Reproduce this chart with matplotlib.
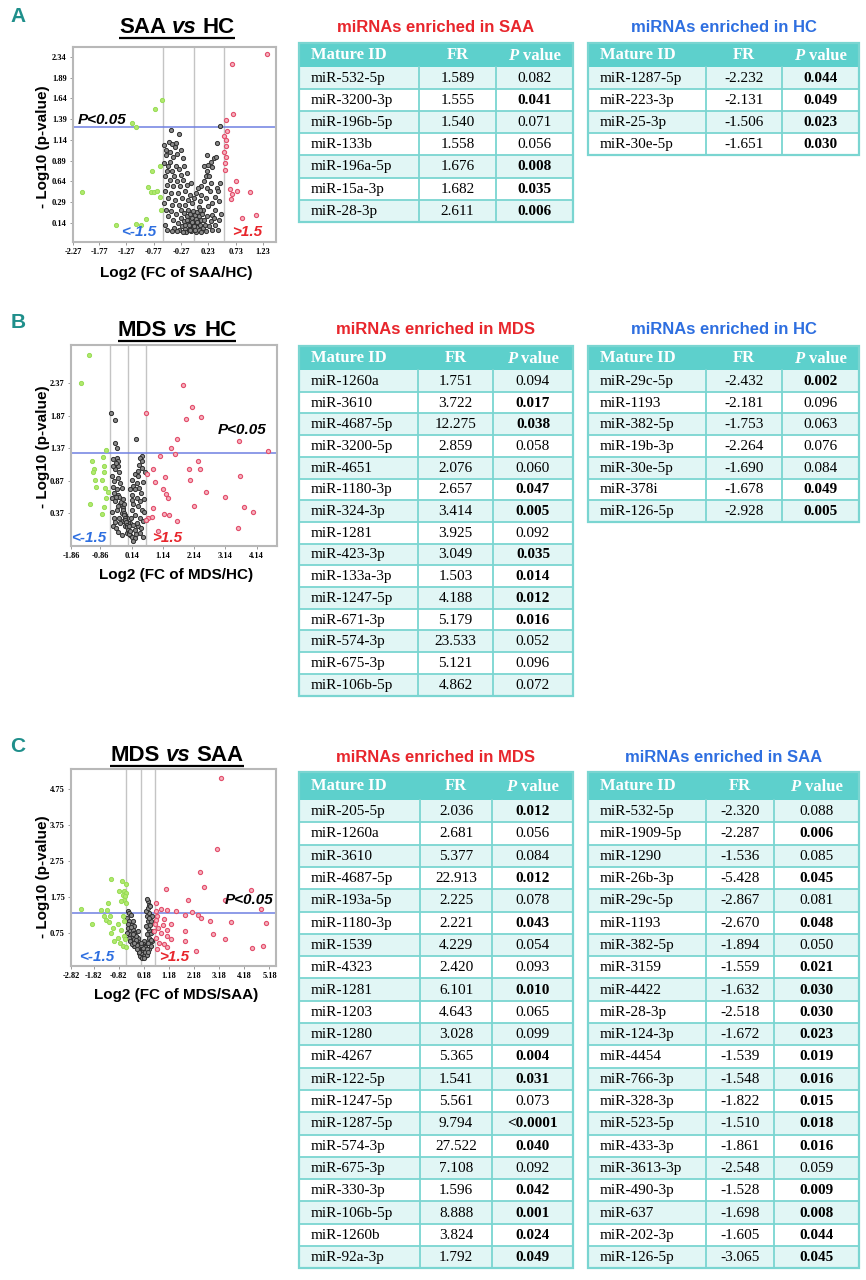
import matplotlib
matplotlib.use('Agg')
import matplotlib.pyplot as plt
import numpy as np
from matplotlib.patches import Rectangle

# ---------------- table data ----------------
a_saa_ids = ['miR-532-5p', 'miR-3200-3p', 'miR-196b-5p', 'miR-133b', 'miR-196a-5p', 'miR-15a-3p', 'miR-28-3p']
a_saa_fr = [1.589, 1.555, 1.540, 1.558, 1.676, 1.682, 2.611]
a_saa_p = ['0.082', '0.041', '0.071', '0.056', '0.008', '0.035', '0.006']

a_hc_ids = ['miR-1287-5p', 'miR-223-3p', 'miR-25-3p', 'miR-30e-5p']
a_hc_fr = [-2.232, -2.131, -1.506, -1.651]
a_hc_p = ['0.044', '0.049', '0.023', '0.030']

b_mds_ids = ['miR-1260a', 'miR-3610', 'miR-4687-5p', 'miR-3200-5p', 'miR-4651', 'miR-1180-3p', 'miR-324-3p',
             'miR-1281', 'miR-423-3p', 'miR-133a-3p', 'miR-1247-5p', 'miR-671-3p', 'miR-574-3p', 'miR-675-3p',
             'miR-106b-5p']
b_mds_fr = [1.751, 3.722, 12.275, 2.859, 2.076, 2.657, 3.414, 3.925, 3.049, 1.503, 4.188, 5.179, 23.533, 5.121, 4.862]
b_mds_p = ['0.094', '0.017', '0.038', '0.058', '0.060', '0.047', '0.005', '0.092', '0.035', '0.014', '0.012',
           '0.016', '0.052', '0.096', '0.072']

b_hc_ids = ['miR-29c-5p', 'miR-1193', 'miR-382-5p', 'miR-19b-3p', 'miR-30e-5p', 'miR-378i', 'miR-126-5p']
b_hc_fr = [-2.432, -2.181, -1.753, -2.264, -1.690, -1.678, -2.928]
b_hc_p = ['0.002', '0.096', '0.063', '0.076', '0.084', '0.049', '0.005']

c_mds_ids = ['miR-205-5p', 'miR-1260a', 'miR-3610', 'miR-4687-5p', 'miR-193a-5p', 'miR-1180-3p', 'miR-1539',
             'miR-4323', 'miR-1281', 'miR-1203', 'miR-1280', 'miR-4267', 'miR-122-5p', 'miR-1247-5p',
             'miR-1287-5p', 'miR-574-3p', 'miR-675-3p', 'miR-330-3p', 'miR-106b-5p', 'miR-1260b', 'miR-92a-3p']
c_mds_fr = [2.036, 2.681, 5.377, 22.913, 2.225, 2.221, 4.229, 2.420, 6.101, 4.643, 3.028, 5.365, 1.541, 5.561,
            9.794, 27.522, 7.108, 1.596, 8.888, 3.824, 1.792]
c_mds_p = ['0.012', '0.056', '0.084', '0.012', '0.078', '0.043', '0.054', '0.093', '0.010', '0.065', '0.099',
           '0.004', '0.031', '0.073', '<0.0001', '0.040', '0.092', '0.042', '0.001', '0.024', '0.049']

c_saa_ids = ['miR-532-5p', 'miR-1909-5p', 'miR-1290', 'miR-26b-3p', 'miR-29c-5p', 'miR-1193', 'miR-382-5p',
             'miR-3159', 'miR-4422', 'miR-28-3p', 'miR-124-3p', 'miR-4454', 'miR-766-3p', 'miR-328-3p',
             'miR-523-5p', 'miR-433-3p', 'miR-3613-3p', 'miR-490-3p', 'miR-637', 'miR-202-3p', 'miR-126-5p']
c_saa_fr = [-2.320, -2.287, -1.536, -5.428, -2.867, -2.670, -1.894, -1.559, -1.632, -2.518, -1.672, -1.539,
            -1.548, -1.822, -1.510, -1.861, -2.548, -1.528, -1.698, -1.605, -3.065]
c_saa_p = ['0.088', '0.006', '0.085', '0.045', '0.081', '0.048', '0.050', '0.021', '0.030', '0.030', '0.023',
           '0.019', '0.016', '0.015', '0.018', '0.016', '0.059', '0.009', '0.008', '0.044', '0.045']

# ---------------- volcano data (log2 FC, -log10 p) ----------------
a_red = [(1.30, 2.18), (0.67, 2.05), (0.68, 1.45), (0.56, 1.38), (0.58, 1.25), (0.51, 1.19), (0.56, 1.14),
         (0.55, 1.07), (0.52, 1.00), (0.56, 0.93), (0.54, 0.86), (0.54, 0.78), (0.73, 0.64), (0.62, 0.55),
         (0.76, 0.53), (0.67, 0.49), (0.65, 0.43), (1.00, 0.51), (0.84, 0.20), (1.10, 0.23)]
a_green = [(-0.62, 1.62), (-0.75, 1.51), (-1.17, 1.35), (-1.10, 1.29), (-2.08, 0.51), (-0.81, 0.76),
           (-0.65, 0.82), (-0.88, 0.57), (-0.82, 0.51), (-0.77, 0.51), (-0.71, 0.53), (-0.66, 0.45),
           (-0.64, 0.29), (-0.91, 0.19), (-1.00, 0.12), (-1.09, 0.13), (-1.47, 0.12)]
a_gray = [(-0.46, 1.26), (-0.30, 1.21), (-0.49, 1.12), (-0.43, 1.09), (-0.37, 1.10), (-0.58, 1.08), (-0.55, 1.02),
          (-0.47, 1.00), (-0.38, 1.06), (-0.27, 1.02), (-0.34, 0.97), (-0.54, 0.96), (-0.41, 0.93), (-0.48, 0.88),
          (-0.23, 0.92), (-0.59, 0.86), (-0.50, 0.83), (-0.36, 0.83), (-0.21, 0.83), (-0.30, 0.79), (-0.44, 0.77),
          (-0.52, 0.76), (-0.56, 0.70), (-0.40, 0.71), (-0.28, 0.72), (-0.17, 0.74), (-0.47, 0.66), (-0.35, 0.64),
          (-0.23, 0.66), (-0.53, 0.60), (-0.41, 0.58), (-0.29, 0.58), (-0.17, 0.60), (-0.08, 0.62), (-0.57, 0.52),
          (-0.45, 0.50), (-0.33, 0.50), (-0.20, 0.52), (-0.10, 0.48), (-0.50, 0.44), (-0.38, 0.42), (-0.26, 0.44),
          (-0.14, 0.42), (-0.58, 0.38), (-0.43, 0.36), (-0.31, 0.35), (-0.20, 0.36), (-0.07, 0.38),
          (0.44, 1.31), (0.38, 1.10), (0.21, 0.96), (0.33, 0.92), (0.37, 0.93), (0.27, 0.88), (0.23, 0.84),
          (0.30, 0.81), (0.15, 0.82), (0.21, 0.76), (0.18, 0.70), (0.25, 0.71), (0.15, 0.64), (0.27, 0.62),
          (0.10, 0.58), (0.04, 0.56), (0.20, 0.56), (0.00, 0.50), (0.10, 0.48), (-0.03, 0.44), (0.26, 0.52),
          (0.38, 0.56), (0.41, 0.52), (0.45, 0.62), (0.35, 0.45), (0.18, 0.44), (0.30, 0.38), (0.42, 0.40),
          (0.08, 0.40), (0.22, 0.34), (0.13, 0.30), (0.36, 0.30), (0.46, 0.25), (0.29, 0.24), (0.05, 0.33),
          (-0.55, 0.30), (-0.50, 0.22), (-0.56, 0.12), (-0.52, 0.06), (-0.45, 0.28), (-0.42, 0.18), (-0.40, 0.08),
          (-0.36, 0.25), (-0.33, 0.14), (-0.30, 0.05), (-0.28, 0.30), (-0.27, 0.20), (-0.25, 0.10), (-0.22, 0.26),
          (-0.21, 0.16), (-0.19, 0.07), (-0.18, 0.03), (-0.16, 0.22), (-0.15, 0.13), (-0.14, 0.30), (-0.13, 0.05),
          (-0.12, 0.18), (-0.11, 0.10), (-0.10, 0.25), (-0.09, 0.14), (-0.08, 0.04), (-0.07, 0.20), (-0.06, 0.09),
          (-0.05, 0.28), (-0.04, 0.16), (-0.03, 0.06), (-0.02, 0.23), (-0.01, 0.12), (0.00, 0.03), (0.01, 0.19),
          (0.02, 0.09), (0.03, 0.27), (0.04, 0.14), (0.05, 0.05), (0.06, 0.22), (0.08, 0.11), (0.09, 0.17),
          (0.10, 0.03), (0.12, 0.25), (0.13, 0.08), (0.15, 0.18), (0.17, 0.12), (0.19, 0.04), (0.21, 0.22),
          (0.24, 0.10), (0.27, 0.16), (0.30, 0.06), (0.33, 0.20), (0.36, 0.12), (0.40, 0.05), (0.43, 0.17),
          (-0.20, 0.11), (-0.17, 0.17), (-0.13, 0.12), (-0.10, 0.06), (-0.07, 0.15), (-0.04, 0.10), (-0.01, 0.05),
          (0.02, 0.15), (-0.24, 0.03), (-0.35, 0.04), (0.07, 0.30), (-0.44, 0.04)]

b_red = [(1.77, 2.34), (2.06, 2.01), (2.37, 1.85), (1.89, 1.82), (0.61, 1.91), (1.60, 1.51), (3.58, 1.48),
         (1.41, 1.37), (1.52, 1.28), (4.49, 1.33), (2.26, 1.18), (1.96, 1.06), (2.34, 1.05), (1.06, 1.25),
         (0.83, 1.06), (0.64, 0.97), (1.20, 0.93), (2.02, 0.89), (3.60, 0.94), (0.88, 0.86), (1.14, 0.75),
         (1.23, 0.67), (1.30, 0.61), (2.51, 0.70), (3.13, 0.63), (2.12, 0.48), (0.83, 0.45), (3.75, 0.47),
         (1.17, 0.36), (1.33, 0.35), (1.59, 0.26), (4.01, 0.40), (3.54, 0.15), (0.97, 0.10), (0.78, 0.32),
         (0.67, 0.30), (0.61, 0.27)]
b_green = [(-1.22, 2.81), (-1.49, 2.38), (-0.69, 1.35), (-0.78, 1.24), (-1.12, 1.17), (-1.06, 1.05),
           (-0.73, 1.10), (-1.10, 1.00), (-0.73, 1.00), (-1.03, 0.88), (-0.80, 0.88), (-1.00, 0.77),
           (-0.71, 0.76), (-0.63, 0.70), (-0.69, 0.61), (-1.19, 0.51), (-0.73, 0.47), (-0.82, 0.36)]
b_gray = [(-0.51, 1.92), (-0.39, 1.81), (-0.39, 1.45), (-0.33, 1.37), (0.27, 1.51),
          (-0.45, 1.20), (-0.34, 1.22), (-0.31, 1.17), (-0.29, 1.10), (-0.39, 1.05), (-0.27, 1.00), (-0.31, 0.92),
          (-0.41, 0.87), (-0.23, 0.84), (-0.34, 0.74), (-0.18, 0.76), (-0.29, 0.66), (-0.50, 0.61), (-0.39, 0.56),
          (-0.23, 0.51), (-0.13, 0.45), (-0.34, 0.43), (-0.18, 0.38), (-0.07, 0.35), (-0.02, 0.30), (-0.13, 0.25),
          (-0.23, 0.22), (-0.07, 0.17), (0.03, 0.14), (-0.29, 0.09), (-0.02, 0.07), (0.09, 0.04), (-0.18, 0.04),
          (0.14, 0.01), (0.24, -0.01), (0.09, 0.22), (0.19, 0.19), (0.01, 0.22),
          (-0.50, 0.95), (-0.45, 0.78), (-0.48, 0.40), (-0.44, 0.30), (-0.47, 0.18), (-0.40, 0.24), (-0.35, 0.15),
          (-0.28, 0.30), (-0.25, 0.62), (-0.20, 0.55), (-0.15, 0.60), (-0.10, 0.52), (-0.30, 0.48), (-0.36, 0.62),
          (-0.42, 0.68), (-0.45, 1.10), (-0.37, 1.15),
          (-0.15, 0.42), (-0.12, 0.38), (-0.10, 0.34), (-0.08, 0.30), (-0.06, 0.27), (-0.04, 0.24), (-0.02, 0.20),
          (0.00, 0.16), (0.02, 0.12), (0.04, 0.09), (0.06, 0.06), (0.08, 0.10), (0.05, 0.18),
          (0.48, 1.25), (0.40, 1.22), (0.46, 1.17), (0.37, 1.12), (0.48, 1.07), (0.24, 0.97), (0.35, 0.94),
          (0.14, 0.89), (0.30, 0.84), (0.19, 0.79), (0.37, 0.76), (0.24, 0.74), (0.44, 0.69), (0.14, 0.66),
          (0.30, 0.61), (0.40, 0.56), (0.19, 0.52), (0.35, 0.48), (0.14, 0.43), (0.46, 0.43), (0.24, 0.35),
          (0.40, 0.30), (0.51, 0.25), (0.35, 0.17), (0.24, 0.12), (0.40, 0.07), (0.51, 0.01), (0.19, -0.06),
          (0.59, 0.27), (0.55, 0.60), (0.50, 0.85), (0.56, 1.00), (0.30, 0.22), (0.45, 0.15), (0.28, 0.05),
          (0.12, 0.30), (0.16, 0.58), (0.10, 0.75), (0.55, 0.40), (0.33, 1.03)]

c_red = [(3.25, 5.05), (3.11, 3.08), (2.42, 2.43), (2.59, 2.02), (1.06, 1.97), (4.44, 1.95), (1.93, 1.67),
         (3.40, 1.67), (4.83, 1.42), (0.67, 1.57), (0.86, 1.42), (1.12, 1.39), (1.46, 1.34), (2.09, 1.32),
         (1.81, 1.25), (2.32, 1.23), (2.45, 1.16), (2.82, 1.08), (3.66, 1.05), (5.04, 1.02), (0.66, 1.34),
         (0.70, 1.20), (0.99, 1.14), (1.26, 0.99), (0.62, 0.99), (0.73, 0.88), (1.12, 0.83), (1.81, 0.79),
         (2.94, 0.71), (0.86, 0.74), (1.10, 0.65), (0.66, 0.60), (1.26, 0.56), (3.41, 0.58), (1.81, 0.51),
         (0.79, 0.46), (0.99, 0.42), (0.70, 0.30), (1.12, 0.34), (2.25, 0.25), (4.48, 0.32), (4.91, 0.37),
         (0.60, 0.79), (0.93, 0.97), (0.66, 1.11)]
c_green = [(-1.12, 2.24), (-0.70, 2.18), (-0.53, 2.11), (-0.79, 1.90), (-0.60, 1.92), (-0.53, 1.85),
           (-0.66, 1.81), (-0.57, 1.76), (-0.62, 1.67), (-0.73, 1.62), (-0.53, 1.57), (-1.26, 1.57),
           (-2.34, 1.41), (-1.52, 1.39), (-1.28, 1.37), (-1.42, 1.20), (-1.15, 1.20), (-0.66, 1.20),
           (-1.32, 1.11), (-1.19, 1.05), (-1.89, 1.00), (-1.06, 0.88), (-0.86, 0.99), (-0.60, 1.07),
           (-1.12, 0.74), (-0.73, 0.83), (-0.62, 0.65), (-0.86, 0.60), (-0.99, 0.51), (-0.75, 0.46),
           (-0.56, 0.56), (-0.66, 0.37), (-0.53, 0.34)]
c_gray = [(-0.46, 1.34), (-0.40, 1.30), (-0.33, 1.25), (-0.49, 1.16), (-0.40, 1.07), (-0.33, 0.97), (-0.46, 0.88),
          (-0.36, 0.79), (-0.27, 0.83), (-0.20, 0.74), (-0.40, 0.70), (-0.30, 0.60), (-0.20, 0.56), (-0.07, 0.51),
          (-0.13, 0.46), (0.00, 0.42), (0.07, 0.37), (0.13, 0.28), (0.17, 0.14), (0.09, 0.19), (0.04, 0.32),
          (0.20, 0.32), (0.27, 0.42), (0.33, 0.51), (0.40, 0.60), (0.30, 0.70), (0.46, 0.74), (0.40, 0.83),
          (0.33, 0.88), (0.27, 0.93), (0.33, 1.07), (0.30, 1.20), (0.40, 1.30), (0.27, 1.34), (0.33, 1.44),
          (0.37, 1.53), (0.36, 1.62), (0.30, 1.69), (0.44, 1.48), (0.46, 1.07), (0.53, 0.79), (0.49, 0.51),
          (0.20, 0.51), (0.13, 0.42), (-0.07, 0.60), (-0.13, 0.65), (-0.27, 0.46), (-0.20, 0.37), (-0.07, 0.28),
          (0.00, 0.19), (0.23, 0.09), (0.13, 0.09), (0.07, 0.07), (0.17, 0.37), (0.27, 0.19), (0.40, 0.28),
          (0.46, 0.37), (-0.26, 1.07), (-0.20, 0.93), (-0.07, 0.79), (-0.40, 0.60), (-0.36, 0.51), (-0.30, 0.42),
          (0.00, 0.30), (0.05, 0.25), (0.10, 0.22), (0.15, 0.20), (0.20, 0.24), (0.08, 0.13), (0.12, 0.16),
          (0.18, 0.10), (0.14, 0.06), (0.20, 0.15), (0.25, 0.28), (-0.05, 0.35), (-0.10, 0.40), (0.02, 0.10),
          (0.06, 0.18), (0.11, 0.30), (0.16, 0.26), (0.22, 0.36), (0.10, 0.05), (0.24, 0.20), (-0.15, 0.55),
          (0.35, 0.45), (0.30, 0.30), (-0.02, 0.22), (0.30, 0.12), (0.19, 0.04), (0.15, 0.33), (0.08, 0.40),
          (-0.10, 0.30), (-0.20, 0.45), (0.36, 0.20), (0.05, 0.45), (0.45, 0.55), (0.50, 1.20), (0.42, 0.95),
          (0.38, 1.15), (-0.45, 1.00), (-0.35, 0.90), (-0.25, 0.70), (-0.50, 0.75)]

a_yticklabels = ['0.14', '0.29', '0.64', '0.89', '1.14', '1.39', '1.64', '1.89', '2.34']
a_xticklabels = ['-2.27', '-1.77', '-1.27', '-0.77', '-0.27', '0.23', '0.73', '1.23']
b_yticklabels = ['0.37', '0.87', '1.37', '1.87', '2.37']
b_xticklabels = ['-1.86', '-0.86', '0.14', '1.14', '2.14', '3.14', '4.14']
c_yticklabels = ['0.75', '1.75', '2.75', '3.75', '4.75']
c_xticklabels = ['-2.82', '-1.82', '-0.82', '0.18', '1.18', '2.18', '3.18', '4.18', '5.18']

# ---------------- style ----------------
W, H = 866, 1280
SANS = 'Liberation Sans'
SERIF = 'Liberation Serif'
TEAL = '#5dd0cc'
GRIDC = '#7ad5d1'
LIGHT = '#e1f6f5'
RED = '#e8262c'
BLUE = '#2e6fe0'
LETTER = '#1f8f8b'
PX = 100 / 72.0

fig = plt.figure(figsize=(W / 100, H / 100), dpi=100)
ax0 = fig.add_axes([0, 0, 1, 1])
ax0.set_xlim(0, W)
ax0.set_ylim(H, 0)
ax0.axis('off')
ax0.patch.set_visible(False)
ax0.set_zorder(10)   # page-level texts and tables above the volcano axes
renderer = fig.canvas.get_renderer()


def rich(x, y, parts, size, color='black', ha='center', family=SANS, underline=False):
    # parts: (text, style, weight); drawn on one baseline with a space between
    gap = size * PX * 0.27
    objs = [ax0.text(0, y, s, fontsize=size, fontstyle=st, fontweight=wt, family=family,
                     color=color, va='baseline', ha='left') for s, st, wt in parts]
    widths = [t.get_window_extent(renderer).width for t in objs]
    total = sum(widths) + gap * (len(objs) - 1)
    x0 = x - total / 2 if ha == 'center' else x
    cur = x0
    for t, w in zip(objs, widths):
        t.set_x(cur)
        cur += w + gap
    if underline:
        ax0.plot([x0, x0 + total], [y + 5, y + 5], color='black', lw=1.6, solid_capstyle='butt')


def table(edges, top, head_h, row_h, ids, fr, pv, title, tcolor, title_y):
    x0, x1, x2, x3 = edges
    n = len(ids)
    ax0.text((x0 + x3) / 2, title_y, title, fontsize=12, fontweight='bold', family=SANS,
             color=tcolor, ha='center', va='center')
    ax0.add_patch(Rectangle((x0, top), x3 - x0, head_h, fc=TEAL, ec='none'))
    body = top + head_h
    for i in range(n):
        fc = LIGHT if i % 2 == 0 else 'white'
        ax0.add_patch(Rectangle((x0, body + i * row_h), x3 - x0, row_h, fc=fc, ec='none'))
    bottom = body + n * row_h
    for i in range(1, n):
        ax0.plot([x0, x3], [body + i * row_h] * 2, color=GRIDC, lw=1.3)
    for xe in (x1, x2):
        ax0.plot([xe, xe], [body, bottom], color=GRIDC, lw=1.3)
    ax0.add_patch(Rectangle((x0, top), x3 - x0, bottom - top, fc='none', ec=GRIDC, lw=1.6))
    hy = top + head_h / 2
    ax0.text(x0 + 12, hy, 'Mature ID', fontsize=12, fontweight='bold', family=SERIF,
             color='white', ha='left', va='center')
    ax0.text((x1 + x2) / 2, hy, 'FR', fontsize=12, fontweight='bold', family=SERIF,
             color='white', ha='center', va='center')
    rich((x2 + x3) / 2, hy + 5.4, [('P', 'italic', 'bold'), ('value', 'normal', 'bold')], 12,
         color='white', family=SERIF)
    for i in range(n):
        cy = body + (i + 0.5) * row_h + 0.5
        ax0.text(x0 + 12, cy, ids[i], fontsize=11, family=SERIF, ha='left', va='center')
        ax0.text((x1 + x2) / 2, cy, '{:.3f}'.format(fr[i]), fontsize=11, family=SERIF,
                 ha='center', va='center')
        bold = float(pv[i].lstrip('<')) < 0.05
        ax0.text((x2 + x3) / 2, cy, pv[i], fontsize=11, family=SERIF, ha='center', va='center',
                 fontweight='bold' if bold else 'normal')


def volcano(box, xlim, ylim, xticks, xlabels, yticks, ylabels, vlines, gray, green, red):
    l, t, r, b = box
    ax = fig.add_axes([l / W, 1 - b / H, (r - l) / W, (b - t) / H])
    ax.set_xlim(*xlim)
    ax.set_ylim(*ylim)
    for v in vlines:
        ax.axvline(v, color='#c4c4c4', lw=1.0, zorder=1)
    ax.axhline(-np.log10(0.05), color='#6f80e2', lw=1.1, zorder=1)
    g = np.array(gray)
    ax.plot(g[:, 0], g[:, 1], 'o', ms=3.0, mfc='#8a8a8a', mec='#2e2e2e', mew=0.7, ls='none', zorder=3)
    gr = np.array(green)
    ax.plot(gr[:, 0], gr[:, 1], 'o', ms=3.0, mfc='#b2e86e', mec='#96dc55', mew=0.7, ls='none', zorder=3)
    rd = np.array(red)
    ax.plot(rd[:, 0], rd[:, 1], 'o', ms=3.0, mfc='#f6b0bd', mec='#e24f6c', mew=0.8, ls='none', zorder=3)
    ax.set_xticks(xticks)
    ax.set_xticklabels(xlabels)
    ax.set_yticks(yticks)
    ax.set_yticklabels(ylabels)
    ax.tick_params(length=2.5, width=0.6, color='#8c8c8c', labelsize=6, pad=2)
    for lab in ax.get_xticklabels() + ax.get_yticklabels():
        lab.set_fontfamily(SERIF)
        lab.set_fontweight('bold')
    for s in ax.spines.values():
        s.set_color('#b8b8b8')
        s.set_linewidth(1.5)
    return ax


def panel_text(letter, ly, title_parts, ty, ylab_y, xlab, xlab_y, p_xy, lo_xy, hi_xy):
    ax0.text(18, ly, letter, fontsize=15, fontweight='bold', family=['Liberation Sans Narrow', SANS],
             color=LETTER, ha='center', va='center')
    rich(177, ty, title_parts, 16, underline=True)
    ax0.text(43, ylab_y, '- Log10 (p-value)', fontsize=11, fontweight='bold', family=SANS,
             rotation=90, ha='center', va='center')
    ax0.text(176, xlab_y, xlab, fontsize=11, fontweight='bold', family=SANS, ha='center', va='center')
    ax0.text(p_xy[0], p_xy[1], 'P<0.05', fontsize=11, fontweight='bold', fontstyle='italic',
             family=SANS, ha='left', va='center')
    ax0.text(lo_xy[0], lo_xy[1], '<-1.5', fontsize=11, fontweight='bold', fontstyle='italic',
             family=SANS, color=BLUE, ha='left', va='center')
    ax0.text(hi_xy[0], hi_xy[1], '>1.5', fontsize=11, fontweight='bold', fontstyle='italic',
             family=SANS, color=RED, ha='left', va='center')


# ---------------- panel A ----------------
volcano((73, 47, 276, 242), (-2.25, 1.47), (-0.09, 2.26),
        [-2.25, -1.77, -1.27, -0.77, -0.27, 0.23, 0.73, 1.23], a_xticklabels,
        [0.14 + 0.25 * k for k in range(9)], a_yticklabels,
        [-0.60, -0.04, 0.52], a_gray, a_green, a_red)
panel_text('A', 17, [('SAA', 'normal', 'bold'), ('vs', 'italic', 'bold'), ('HC', 'normal', 'bold')], 33,
           147, 'Log2 (FC of SAA/HC)', 273, (78, 120), (121, 232), (232, 232))
table((299, 419, 496, 573), 43, 24, 22.1, a_saa_ids, a_saa_fr, a_saa_p,
      'miRNAs enriched in SAA', RED, 27)
table((588, 706, 782, 859), 43, 24, 22.1, a_hc_ids, a_hc_fr, a_hc_p,
      'miRNAs enriched in HC', BLUE, 27)

# ---------------- panel B ----------------
volcano((71, 345, 277, 546), (-1.80, 4.79), (-0.13, 2.96),
        [-1.80, -0.86, 0.14, 1.14, 2.14, 3.14, 4.14], b_xticklabels,
        [0.37, 0.87, 1.37, 1.87, 2.37], b_yticklabels,
        [-0.54, 0.03, 0.60], b_gray, b_green, b_red)
panel_text('B', 322, [('MDS', 'normal', 'bold'), ('vs', 'italic', 'bold'), ('HC', 'normal', 'bold')], 336,
           447, 'Log2 (FC of MDS/HC)', 575, (218, 430), (71, 538), (152, 538))
table((299, 418, 493, 573), 346, 24, 21.7, b_mds_ids, b_mds_fr, b_mds_p,
      'miRNAs enriched in MDS', RED, 330)
table((588, 706, 782, 859), 346, 24, 21.7, b_hc_ids, b_hc_fr, b_hc_p,
      'miRNAs enriched in HC', BLUE, 330)

# ---------------- panel C ----------------
volcano((71, 769, 276, 966), (-2.72, 5.44), (-0.18, 5.31),
        [-2.72, -1.82, -0.82, 0.18, 1.18, 2.18, 3.18, 4.18, 5.18], c_xticklabels,
        [0.75, 1.75, 2.75, 3.75, 4.75], c_yticklabels,
        [-0.52, 0.05, 0.62], c_gray, c_green, c_red)
panel_text('C', 747, [('MDS', 'normal', 'bold'), ('vs', 'italic', 'bold'), ('SAA', 'normal', 'bold')], 761,
           877, 'Log2 (FC of MDS/SAA)', 995, (225, 900), (79, 957), (159, 957))
table((299, 420, 492, 573), 772, 28, 22.3, c_mds_ids, c_mds_fr, c_mds_p,
      'miRNAs enriched in MDS', RED, 757)
table((588, 706, 774, 859), 772, 28, 22.3, c_saa_ids, c_saa_fr, c_saa_p,
      'miRNAs enriched in SAA', BLUE, 757)

fig.savefig('out.png', dpi=100)
